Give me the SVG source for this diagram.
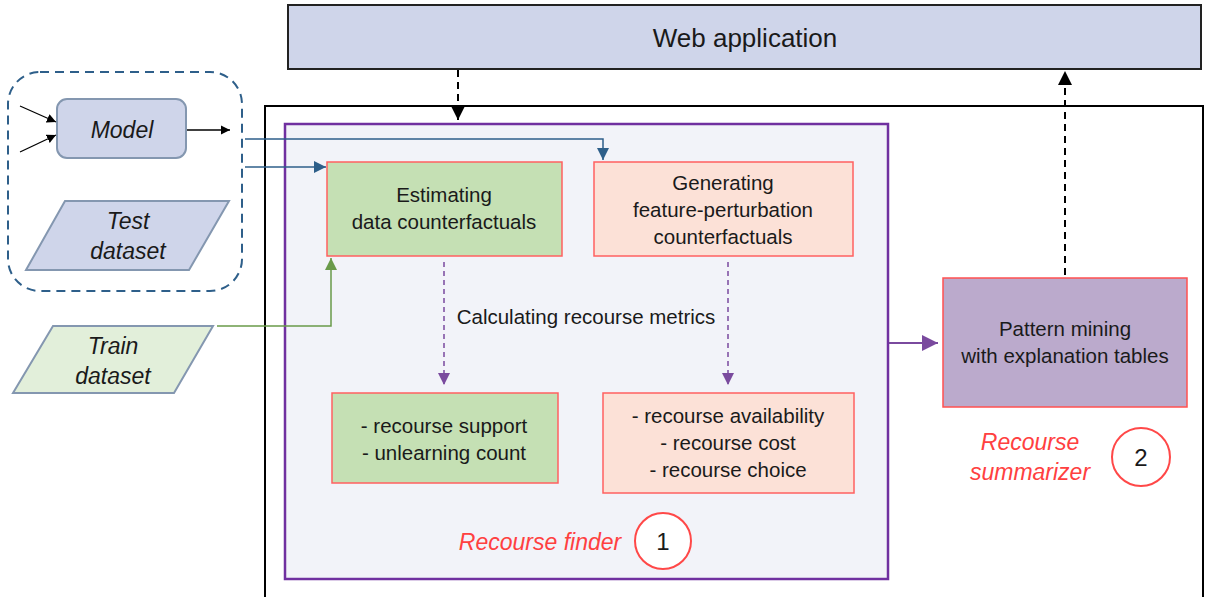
<svg xmlns="http://www.w3.org/2000/svg" width="1209" height="597" viewBox="0 0 1209 597">
<defs>
<style>
text{font-family:"Liberation Sans",Arial,sans-serif;fill:#1a1a1a;text-anchor:middle}
.t{font-size:20.5px}
.it{font-style:italic;font-size:23px}
.red{fill:#FF4040;font-style:italic;font-size:23px}
.box{stroke:#FF6060;stroke-width:1.5}
.green{fill:#C5E0B4}
.salmon{fill:#FCE1D7}
.blue{stroke:#2E5F8A;stroke-width:1.5;fill:none}
.circ{fill:#fff;stroke:#FF4848;stroke-width:2}
</style>
<marker id="ab" viewBox="0 0 10 10" refX="10" refY="5" markerWidth="7" markerHeight="7" orient="auto"><path d="M0,0L10,5L0,10z" fill="#000"/></marker>
<marker id="abl" viewBox="0 0 10 10" refX="10" refY="5" markerWidth="8" markerHeight="8" orient="auto"><path d="M0,0L10,5L0,10z" fill="#2E5F8A"/></marker>
<marker id="ag" viewBox="0 0 10 10" refX="10" refY="5" markerWidth="8" markerHeight="8" orient="auto"><path d="M0,0L10,5L0,10z" fill="#6A9A4A"/></marker>
<marker id="ap" viewBox="0 0 10 10" refX="10" refY="5" markerWidth="8" markerHeight="8" orient="auto"><path d="M0,0L10,5L0,10z" fill="#7A4A9E"/></marker>
</defs>
<rect width="1209" height="597" fill="#fff"/>

<g id="outer"><rect x="265" y="106" width="938" height="500" fill="#fff" stroke="#000" stroke-width="2"/></g>
<g id="finder"><rect x="285" y="124" width="603" height="455" fill="#F2F3F9" stroke="#7030A0" stroke-width="2.5"/></g>

<g id="webapp"><rect x="288" y="5" width="913" height="64" fill="#CFD5EA" stroke="#222" stroke-width="2"/>
<text x="745" y="47" style="font-size:26px">Web application</text></g>

<g id="group-model"><rect x="8" y="72" width="234" height="219" rx="32" fill="none" stroke="#2E5F8A" stroke-width="2" stroke-dasharray="9,6"/></g>

<g id="model"><rect x="57" y="99" width="129" height="59" rx="10" fill="#CFD5EA" stroke="#8497B0" stroke-width="2"/>
<text x="122" y="138" class="it">Model</text></g>

<g id="test"><polygon points="26,270 65,201 229,201 189,270" fill="#CFD5EA" stroke="#8497B0" stroke-width="2"/>
<text x="128" y="229" class="it">Test</text><text x="128" y="259" class="it">dataset</text></g>

<g id="train"><polygon points="13,393 53,326 213,326 174,393" fill="#E2EFDA" stroke="#8497B0" stroke-width="2"/>
<text x="113" y="354" class="it">Train</text><text x="113" y="384" class="it">dataset</text></g>

<g id="estimating"><rect x="327" y="162" width="235" height="94" class="box green"/>
<text x="444" y="202" class="t">Estimating</text><text x="444" y="229" class="t">data counterfactuals</text></g>

<g id="generating"><rect x="594" y="162" width="259" height="94" class="box salmon"/>
<text x="723" y="190" class="t">Generating</text><text x="723" y="217" class="t">feature-perturbation</text><text x="723" y="244" class="t">counterfactuals</text></g>

<g id="metrics-data"><rect x="332" y="393" width="226" height="90" class="box green"/>
<text x="444" y="433" class="t">- recourse support</text><text x="444" y="460" class="t">- unlearning count</text></g>

<g id="metrics-feat"><rect x="603" y="393" width="251" height="100" class="box salmon"/>
<text x="728" y="423" class="t">- recourse availability</text><text x="728" y="450" class="t">- recourse cost</text><text x="728" y="477" class="t">- recourse choice</text></g>

<g id="pattern"><rect x="943" y="278" width="244" height="129" fill="#BBAACC" stroke="#FF5050" stroke-width="1.5"/>
<text x="1065" y="336" class="t">Pattern mining</text><text x="1065" y="363" class="t">with explanation tables</text></g>

<g id="label-finder"><text x="540" y="550" class="red">Recourse finder</text>
<circle cx="663" cy="541" r="28" class="circ"/><text x="663" y="550" style="font-size:24px">1</text></g>

<g id="label-summarizer"><text x="1030" y="450" class="red">Recourse</text><text x="1030" y="480" class="red">summarizer</text>
<circle cx="1141" cy="457" r="29" class="circ"/><text x="1141" y="466" style="font-size:24px">2</text></g>

<text x="586" y="324" class="t">Calculating recourse metrics</text>

<g id="connectors">
<line x1="20" y1="106" x2="56" y2="122" stroke="#000" stroke-width="1.3" marker-end="url(#ab)"/>
<line x1="20" y1="152" x2="56" y2="135" stroke="#000" stroke-width="1.3" marker-end="url(#ab)"/>
<line x1="187" y1="130" x2="230" y2="130" stroke="#000" stroke-width="1.3" marker-end="url(#ab)"/>
<polyline points="245,139 603,139 603,160" class="blue" marker-end="url(#abl)"/>
<line x1="245" y1="167" x2="326" y2="167" class="blue" marker-end="url(#abl)"/>
<polyline points="217,326 331,326 331,258" fill="none" stroke="#6A9A4A" stroke-width="1.5" marker-end="url(#ag)"/>
<line x1="458" y1="70" x2="458" y2="120" stroke="#000" stroke-width="2" stroke-dasharray="7,5" marker-end="url(#ab)"/>
<line x1="1065" y1="275" x2="1065" y2="71" stroke="#000" stroke-width="2" stroke-dasharray="7,5" marker-end="url(#ab)"/>
<line x1="444" y1="262" x2="444" y2="385" stroke="#7A4A9E" stroke-width="1.5" stroke-dasharray="5,4" marker-end="url(#ap)"/>
<line x1="728" y1="262" x2="728" y2="385" stroke="#7A4A9E" stroke-width="1.5" stroke-dasharray="5,4" marker-end="url(#ap)"/>
<line x1="889" y1="343" x2="938" y2="343" stroke="#7A4A9E" stroke-width="2" marker-end="url(#ap)"/>
</g>
</svg>
